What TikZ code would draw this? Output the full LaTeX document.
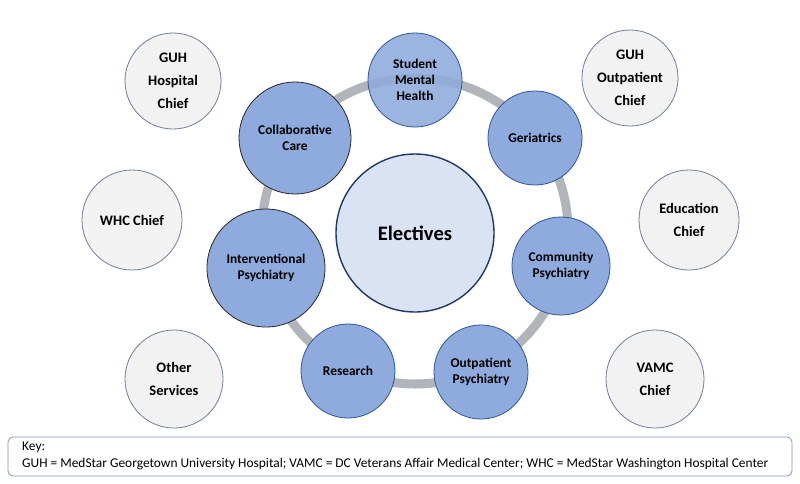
\documentclass[tikz,border=0pt]{standalone}
\usepackage{fontspec}
\setmainfont{Carlito}
\begin{document}
\begin{tikzpicture}[x=1pt,y=-1pt,
  sat/.style={circle,draw=satborder,line width=0.8pt,fill=satfill,inner sep=0pt,align=center,font=\bfseries\fontsize{13.4}{16}\selectfont},
  satdark/.style={sat,draw=black!85},
  outer/.style={circle,draw=outborder,line width=0.8pt,fill=outfill,inner sep=0pt,align=center,font=\bfseries\fontsize{14.5}{23}\selectfont},
  hub/.style={circle,draw=hubborder,line width=1.4pt,fill=hubfill,inner sep=0pt,font=\bfseries\fontsize{20.6}{25}\selectfont},
  ring/.style={draw=ringgray,line width=9pt},
  keybox/.style={draw=keyborder,line width=0.8pt,rounded corners=5pt},
  keytext/.style={anchor=west,inner sep=0pt,font=\fontsize{13.4}{16}\selectfont}]
\definecolor{satfill}{HTML}{8FAADC}
\definecolor{satborder}{HTML}{2F5597}
\definecolor{outfill}{HTML}{F2F2F2}
\definecolor{outborder}{HTML}{6F7F99}
\definecolor{keyborder}{HTML}{7F96BA}
\definecolor{hubfill}{HTML}{DAE3F3}
\definecolor{hubborder}{HTML}{1F3864}
\definecolor{ringgray}{HTML}{B1B4B9}
\useasboundingbox (0,0) rectangle (800,483);
\fill[white] (0,0) rectangle (800,483);
% ring
\coordinate (rc) at (415,231);
\draw[ring] (rc) circle[radius=153pt];
% hub
\node[hub,minimum size=158pt] (hub) at (415,233) {Electives};
% satellites
\node[sat,minimum size=94pt,fill opacity=0.88,text opacity=1] (smh) at (415,80) {Student\\Mental\\Health};
\node[sat,minimum size=94pt] (ger) at (535,138) {Geriatrics};
\node[sat,minimum size=98pt] (com) at (561,266) {Community\\Psychiatry};
\node[sat,minimum size=94pt] (outp) at (481,372) {Outpatient\\Psychiatry};
\node[sat,minimum size=94pt] (res) at (348,371) {Research};
\node[satdark,minimum size=118pt] (int) at (266,268) {Interventional\\Psychiatry};
\node[satdark,minimum size=112pt] (col) at (295,138) {Collaborative\\Care};
% outer circles
\node[outer,minimum size=96pt] (guhh) at (173,81) {GUH\\Hospital\\Chief};
\node[outer,minimum size=96pt] (guho) at (630,78) {GUH\\Outpatient\\Chief};
\node[outer,minimum size=100pt] (whc) at (132,220) {WHC Chief};
\node[outer,minimum size=100pt] (edu) at (689,220) {Education\\Chief};
\node[outer,minimum size=98pt] (oth) at (174,379) {Other\\Services};
\node[outer,minimum size=98pt] (vamc) at (655,379) {VAMC\\Chief};
% key
\draw[keybox] (8,437) rectangle (792,476);
\node[keytext] (keyt) at (22,447) {Key:};
\node[keytext] (keyd) at (22,464) {GUH = MedStar Georgetown University Hospital; VAMC = DC Veterans Affair Medical Center; WHC = MedStar Washington Hospital Center};
\end{tikzpicture}
\end{document}
